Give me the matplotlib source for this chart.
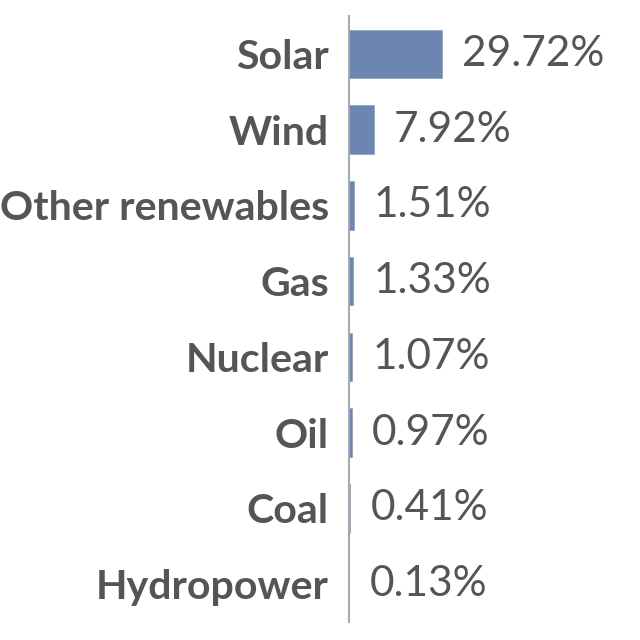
import matplotlib
matplotlib.use("Agg")
import matplotlib.pyplot as plt

# data
sources = ["Solar", "Wind", "Other renewables", "Gas", "Nuclear", "Oil", "Coal", "Hydropower"]
shares = [29.72, 7.92, 1.51, 1.33, 1.07, 0.97, 0.41, 0.13]

plt.rcParams['font.family'] = ['Lato', 'DejaVu Sans']

bar_color = '#6c86b2'
text_color = '#555555'

fig = plt.figure(figsize=(6.4, 6.4), dpi=100)
ax = fig.add_axes([349 / 640, 1 - 622 / 640, 291 / 640, 606 / 640])

pos = list(range(len(sources)))
ax.barh(pos, shares, height=0.64, color=bar_color, edgecolor='#8ea3c8', linewidth=0.6)

for p, v in zip(pos, shares):
    ax.text(v + 6.4, p, f"{v:.2f}%", va='center', ha='left',
            fontsize=30.5, color=text_color)

ax.set_yticks(pos)
ax.set_yticklabels(sources, fontsize=29.6, fontweight='bold', color=text_color)
ax.tick_params(axis='y', length=0, pad=14.5)
ax.set_ylim(len(sources) - 0.5, -0.5)
ax.set_xlim(0, 93)
ax.set_xticks([])

for s in ['top', 'right', 'bottom']:
    ax.spines[s].set_visible(False)
ax.spines['left'].set_color('#aaaaaa')
ax.spines['left'].set_linewidth(1.5)

fig.savefig("out.png", dpi=100)
